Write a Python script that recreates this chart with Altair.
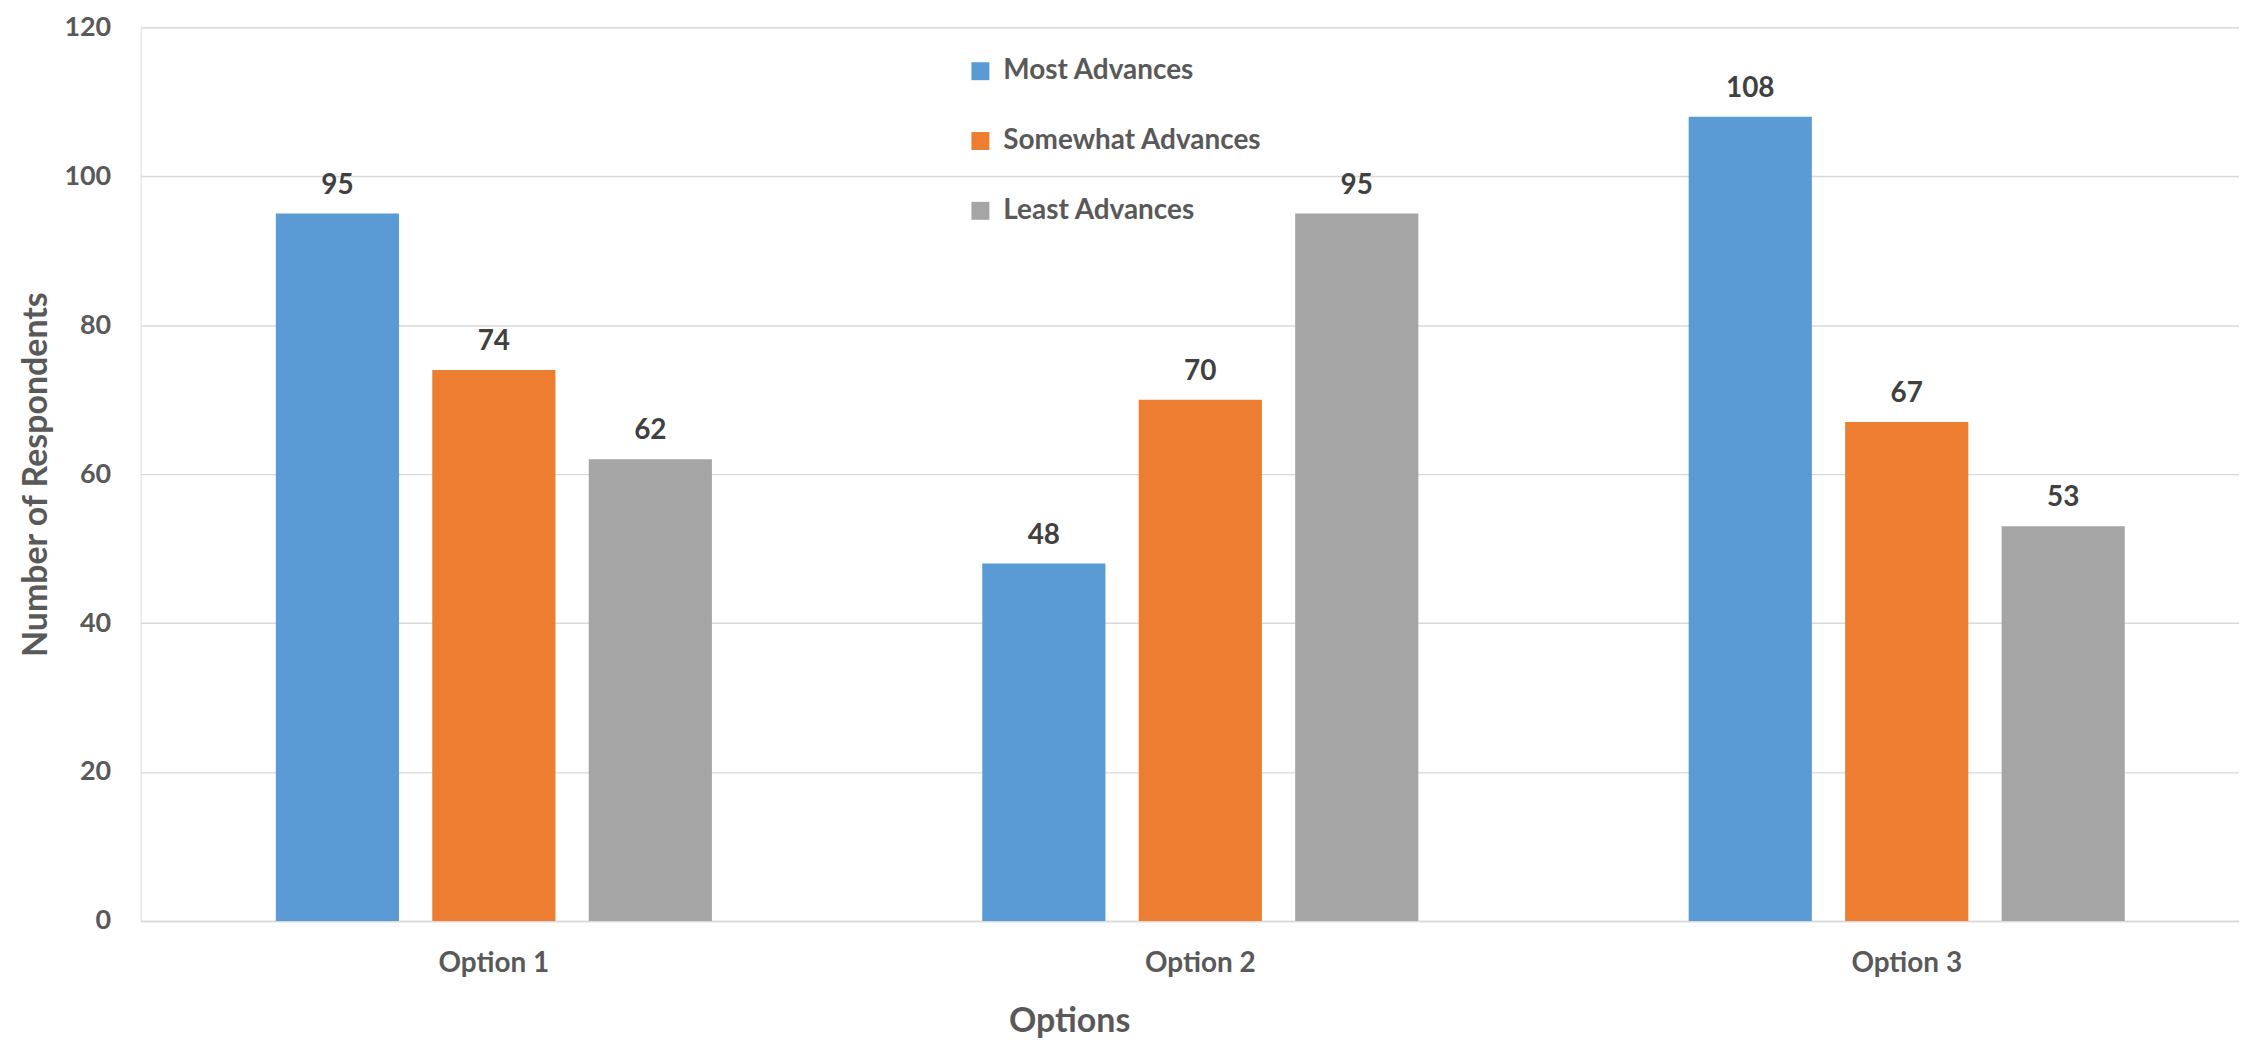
import altair as alt
import pandas as pd

options = ["Option 1", "Option 2", "Option 3"]
series = ["Most Advances", "Somewhat Advances", "Least Advances"]
most_adv = [95, 48, 108]
somewhat_adv = [74, 70, 67]
least_adv = [62, 95, 53]
colors = ["#5b9bd5", "#ed7d31", "#a5a5a5"]
y_ticks = [0, 20, 40, 60, 80, 100, 120]

rows = []
for name, vals in zip(series, [most_adv, somewhat_adv, least_adv]):
    for opt, v in zip(options, vals):
        rows.append({"Option": opt, "Series": name, "Value": v})
df = pd.DataFrame(rows)

FONT = "Lato"

x_enc = alt.X(
    "Option:N",
    sort=options,
    scale=alt.Scale(paddingInner=0, paddingOuter=0, range=[0, 2125]),
    axis=alt.Axis(
        title="Options",
        titleFontSize=34,
        titleFont=FONT,
        titleFontWeight="bold",
        titleColor="#595959",
        titleBaseline="alphabetic",
        titleX=931,
        titleY=111,
        titleAlign="center",
        labelAngle=0,
        labelFontSize=28,
        labelFont=FONT,
        labelFontWeight="bold",
        labelColor="#595959",
        labelBaseline="alphabetic",
        labelPadding=51,
        ticks=False,
        domainColor="#d9d9d9",
        domainWidth=1.5,
        grid=False,
    ),
)
xoff_enc = alt.XOffset(
    "Series:N",
    sort=series,
    scale=alt.Scale(paddingInner=0.2127, paddingOuter=0.864),
)
y_enc = alt.Y(
    "Value:Q",
    scale=alt.Scale(domain=[0, 120], nice=False),
    axis=alt.Axis(
        title="Number of Respondents",
        titleFontSize=34,
        titleFont=FONT,
        titleFontWeight="bold",
        titleColor="#595959",
        titleAngle=-90,
        titleBaseline="alphabetic",
        titleAlign="center",
        titleX=-94,
        titleY=448,
        values=y_ticks,
        labelFontSize=27,
        labelFont=FONT,
        labelFontWeight="bold",
        labelColor="#595959",
        labelPadding=30,
        labelBaseline="middle",
        ticks=False,
        domain=False,
        grid=True,
        gridColor="#d9d9d9",
        gridWidth=1.4,
    ),
)

bars = alt.Chart(df).mark_bar().encode(
    x=x_enc,
    xOffset=xoff_enc,
    y=y_enc,
    color=alt.Color(
        "Series:N",
        sort=series,
        scale=alt.Scale(domain=series, range=colors),
        legend=alt.Legend(
            title=None,
            orient="none",
            legendX=828,
            legendY=30,
            direction="vertical",
            symbolType="square",
            symbolSize=324,
            symbolStrokeWidth=0,
            symbolOpacity=1,
            labelFontSize=28,
            labelFont=FONT,
            labelFontWeight="bold",
            labelColor="#595959",
            labelOffset=9,
            labelLimit=0,
            rowPadding=42,
            padding=0,
        ),
    ),
)

labels = alt.Chart(df).mark_text(
    baseline="alphabetic",
    dy=-20,
    fontSize=28,
    font=FONT,
    fontWeight="bold",
    color="#404040",
).encode(
    x=alt.X("Option:N", sort=options),
    xOffset=alt.XOffset("Series:N", sort=series),
    y=alt.Y("Value:Q"),
    text=alt.Text("Value:Q"),
)

chart = (
    alt.layer(bars, labels)
    .properties(
        width=2104,
        height=896,
        autosize=alt.AutoSizeParams(type="none"),
        padding={"left": 133, "top": 18, "right": 0, "bottom": 116},
    )
    .configure_view(stroke=None)
    .configure(background="white")
)

chart.save("out.html", embed_options={"renderer": "svg", "actions": False})
